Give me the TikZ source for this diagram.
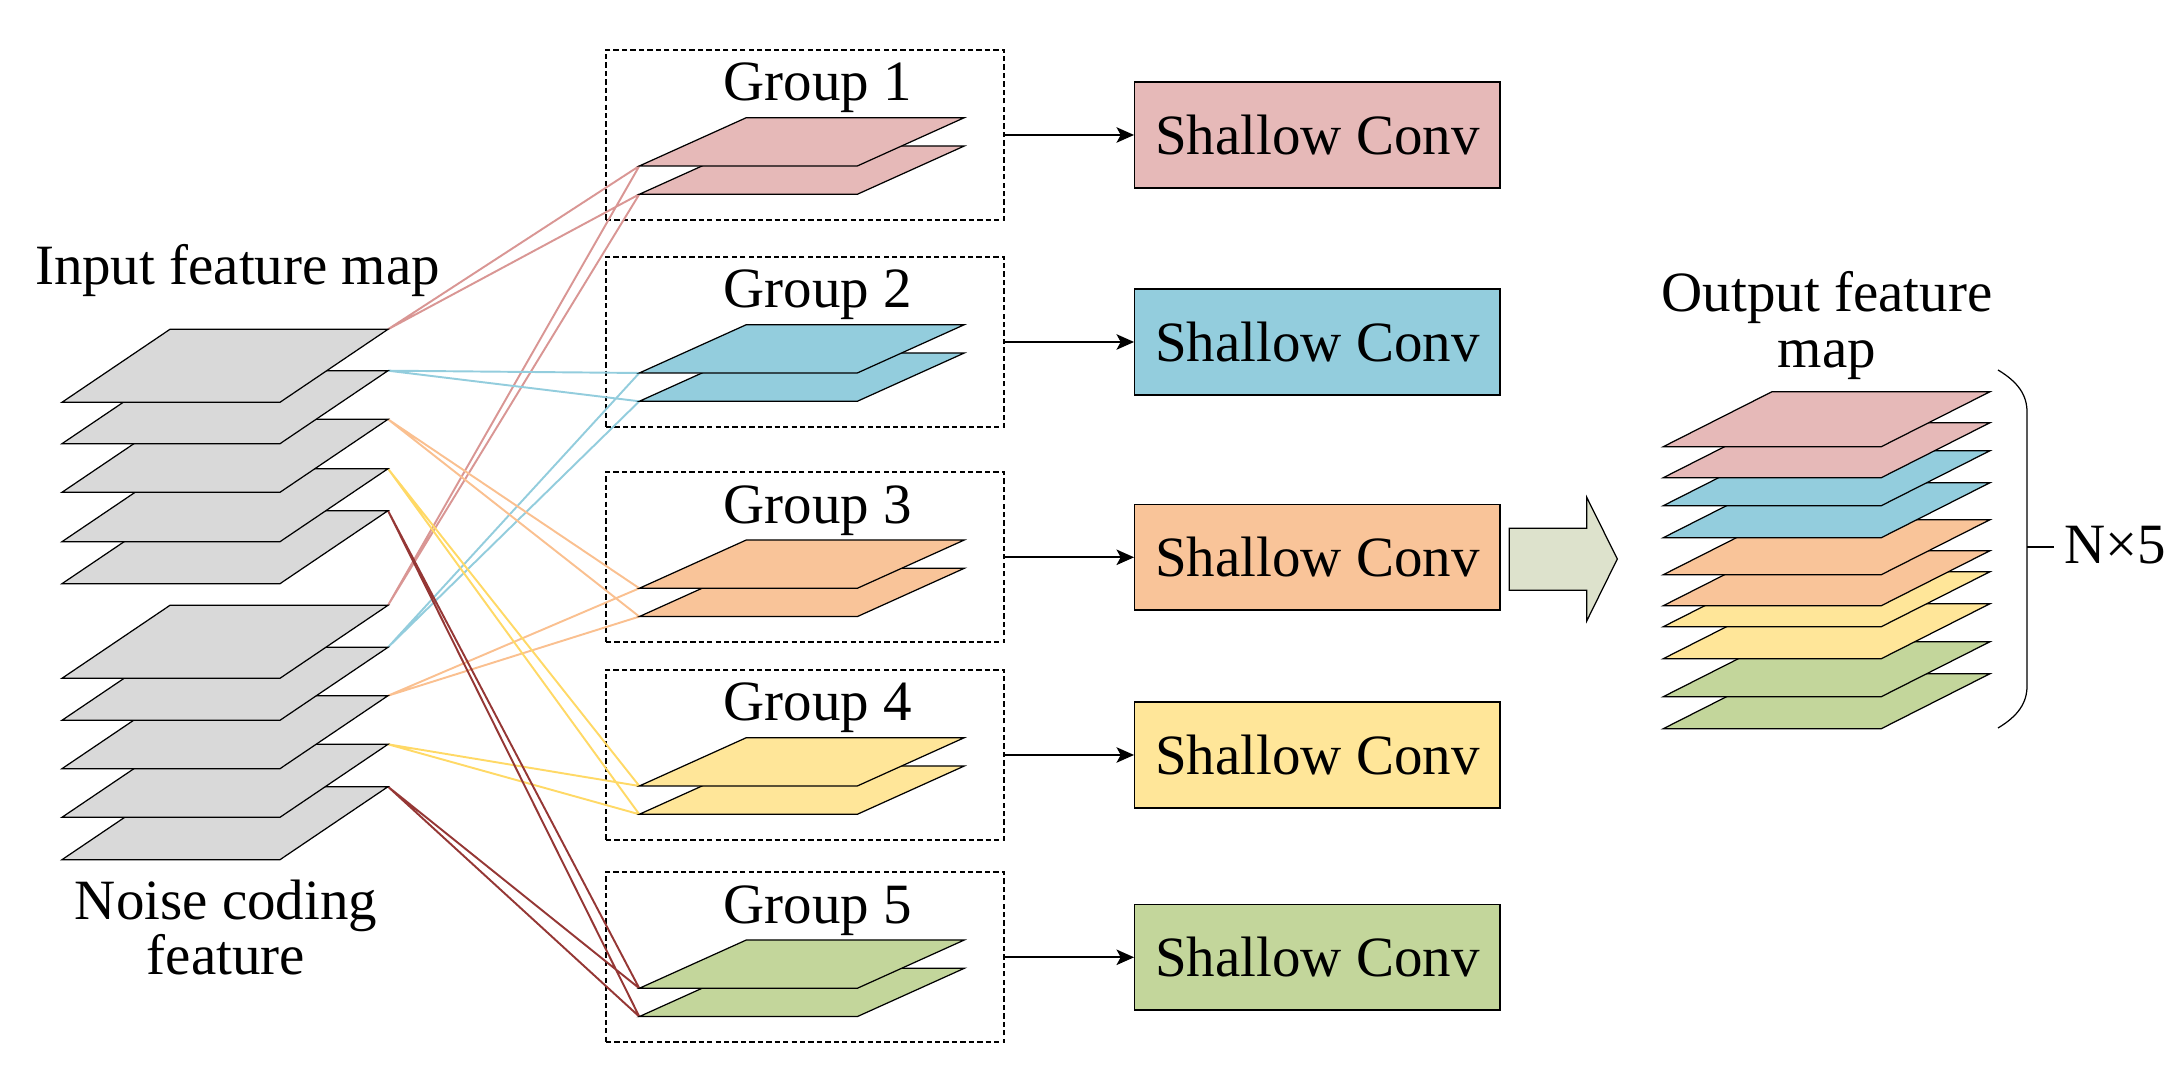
\documentclass[tikz,border=0pt]{standalone}
\usepackage{fontspec}
\setmainfont{Liberation Serif}
\usetikzlibrary{arrows.meta,positioning}

\definecolor{pinkmap}{HTML}{E6B9B8}
\definecolor{bluemap}{HTML}{93CDDD}
\definecolor{orangemap}{HTML}{F9C499}
\definecolor{yellowmap}{HTML}{FFE699}
\definecolor{greenmap}{HTML}{C3D69B}
\definecolor{graymap}{HTML}{D9D9D9}
\definecolor{pinkline}{HTML}{D99694}
\definecolor{blueline}{HTML}{93CDDD}
\definecolor{orangeline}{HTML}{FAC090}
\definecolor{yellowline}{HTML}{FFD966}
\definecolor{redline}{HTML}{953735}
\definecolor{arrowfill}{HTML}{DDE2CC}

% one feature map: fill, x and y of the lower left corner, height, skew
\newcommand{\fmap}[5]{\filldraw[fill=#1, draw=black, line width=0.35pt]
  (#2,#3) -- ++(218,0) -- ++(#5,-#4) -- ++(-218,0) -- cycle;}

\begin{document}
\begin{tikzpicture}[
    x=0.01cm, y=-0.01cm,
    font=\fontsize{16.2}{15.9}\selectfont,
    groupbox/.style={draw, dash pattern=on 1.5pt off 0.9pt, line width=0.5pt,
      minimum width=3.98cm, minimum height=1.7cm, inner sep=0pt},
    convbox/.style={draw, line width=0.4pt, minimum width=3.65cm,
      minimum height=1.056cm, inner sep=0pt},
    maptext/.style={anchor=base, inner sep=0pt, align=center},
    myedge/.style={-{Stealth[length=5pt, width=4.4pt, inset=1.2pt]}, line width=0.5pt},
    link/.style={line width=0.55pt}
]
\useasboundingbox (0,0) rectangle (2182,1071);

% input and noise maps
\node[maptext] (inlabel) at (237.5,285) {Input feature map};
\node[maptext] (nzlabel) at (226,975) {Noise coding\\feature};
\foreach \t [count=\i] in {329.3,370.7,419.3,468.7,510.7}{
  \coordinate (in\i) at (388,\t);
}
\foreach \t [count=\i] in {605.3,647.3,695.7,744.3,786.7}{
  \coordinate (nz\i) at (388,\t);
}

% groups and shallow convs
\foreach \t/\c [count=\i] in {50/pinkmap,257/bluemap,472.3/orangemap,670/yellowmap,872.3/greenmap}{
  \node[groupbox] (g\i) at (805,\t+85) {};
  \node[maptext] (lg\i) at (818,\t+51) {Group \i};
  \node[convbox, fill=\c, right=1.29cm of g\i] (c\i) {Shallow Conv};
  \draw[myedge] (g\i) -- (c\i);
  \coordinate (ga\i) at (639.3,\t+116);
  \coordinate (gb\i) at (639.3,\t+144.3);
}

\foreach \i/\c in {1/pinkline,2/blueline,3/orangeline,4/yellowline,5/redline}{
  \draw[link, \c] (in\i) -- (ga\i) (in\i) -- (gb\i) (nz\i) -- (ga\i) (nz\i) -- (gb\i);
}

\foreach \t in {510.7,468.7,419.3,370.7,329.3}{
  \fmap{graymap}{62}{\t+73}{73}{108}
}
\foreach \t in {786.7,744.3,695.7,647.3,605.3}{
  \fmap{graymap}{62}{\t+73}{73}{108}
}
\foreach \t/\c in {50/pinkmap,257/bluemap,472.3/orangemap,670/yellowmap,872.3/greenmap}{
  \fmap{\c}{639.3}{\t+144.3}{48.3}{107}
  \fmap{\c}{639.3}{\t+116}{48.3}{107}
}

% output
\filldraw[fill=arrowfill, line width=0.35pt] (1509.3,528.3) -- (1586.7,528.3) -- (1586.7,497.3)
  -- (1617.3,559) -- (1586.7,621) -- (1586.7,590.3) -- (1509.3,590.3) -- cycle;
\node[maptext] (outlabel) at (1827,367.3) {Output feature\\map};
\foreach \t/\c in {673.7/greenmap,641.7/greenmap,603.7/yellowmap,571.7/yellowmap,550.7/orangemap,
    519.7/orangemap,482.7/bluemap,450.7/bluemap,422.7/pinkmap,391.7/pinkmap}{
  \fmap{\c}{1663.3}{\t+55}{55}{108.7}
}

\draw[line width=0.35pt] (1998,370) .. controls (2018,382) and (2027,395) .. (2027,412)
  -- (2027,686) .. controls (2027,703) and (2018,716) .. (1998,728);
\coordinate (brace) at (2027,547);
\node[anchor=base west, inner sep=0pt] (nlabel) at (2064,564) {N×5};
\draw[line width=0.35pt] (brace) -- ++(27,0);
\end{tikzpicture}
\end{document}
